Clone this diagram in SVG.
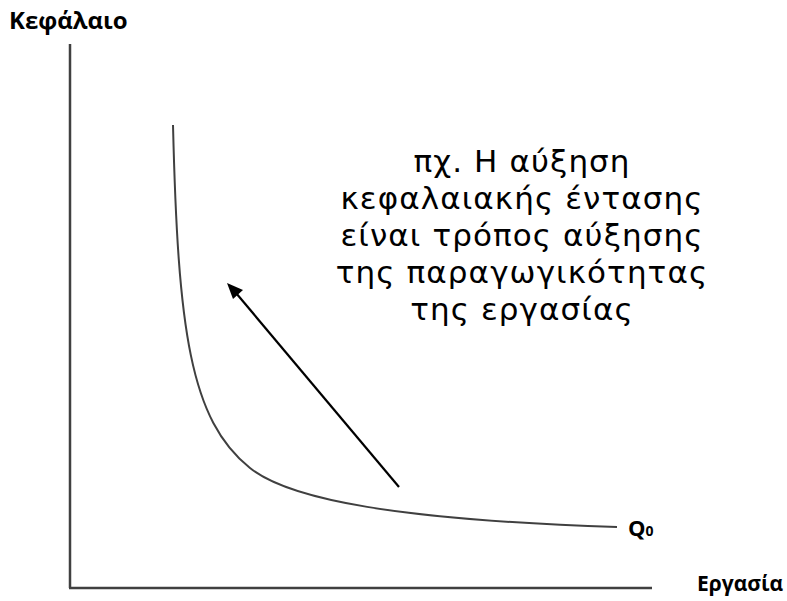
<svg xmlns="http://www.w3.org/2000/svg" width="787" height="601" viewBox="0 0 787 601">
<defs>
<style>
.lbl{font-family:"Open Sans","DejaVu Sans",sans-serif;font-weight:bold;fill:#000}
.note{font-family:"DejaVu Sans","Noto Sans",sans-serif;font-size:31px;letter-spacing:1.1px;fill:#000;text-anchor:middle}
.axis{stroke:#404040;stroke-width:2.5;fill:none}
.curve{stroke:#404040;stroke-width:2;fill:none}
</style>
</defs>
<rect width="787" height="601" fill="#fff"/>
<g id="axes">
<line class="axis" x1="70" y1="44" x2="70" y2="588"/>
<line class="axis" x1="69" y1="588" x2="652" y2="588"/>
</g>
<g id="curve-Q0">
<path class="curve" d="M173,125 C178,330 190,420 250,468 C290,500 400,520 617,527"/>
<text class="lbl" x="628" y="536" font-size="22">Q<tspan font-size="14">0</tspan></text>
</g>
<g id="connectors">
<line x1="399" y1="487" x2="236" y2="293" stroke="#000" stroke-width="2.2"/>
<path d="M227,283 L243,290 L233,299 z" fill="#000"/>
</g>
<g id="note">
<text class="note" x="522" y="172">πχ. Η αύξηση</text>
<text class="note" x="522" y="209">κεφαλαιακής έντασης</text>
<text class="note" x="522" y="246">είναι τρόπος αύξησης</text>
<text class="note" x="522" y="283">της παραγωγικότητας</text>
<text class="note" x="522" y="320">της εργασίας</text>
</g>
<g id="labels">
<text class="lbl" x="9" y="29" font-size="24">Κεφάλαιο</text>
<text class="lbl" x="697" y="591" font-size="21">Εργασία</text>
</g>
</svg>
